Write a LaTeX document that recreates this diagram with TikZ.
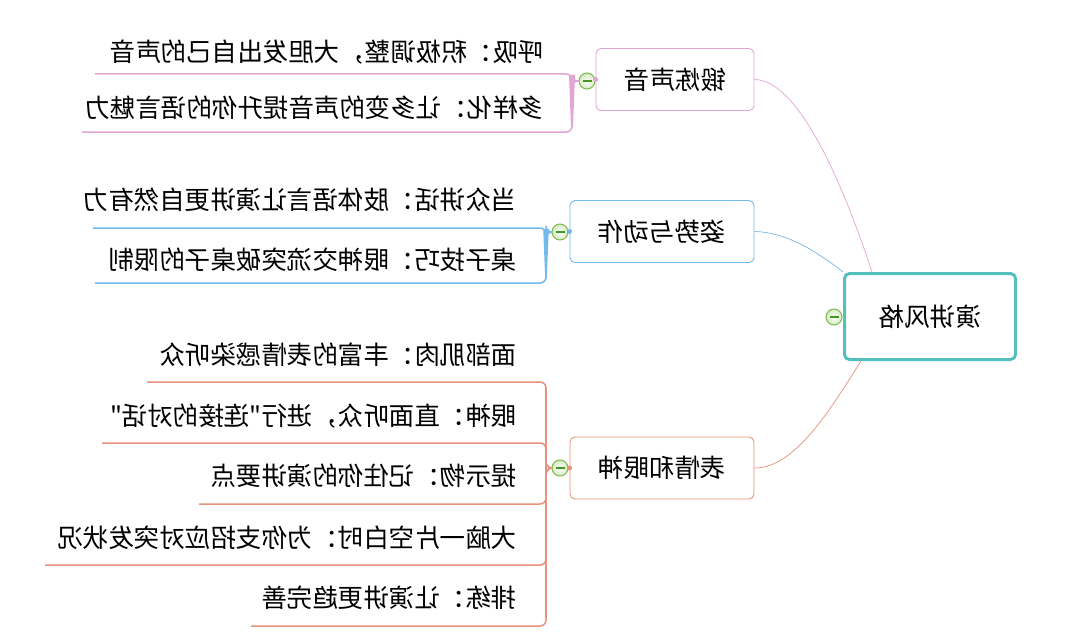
\documentclass[tikz,border=0pt]{standalone}
\usepackage{fontspec}
\usepackage{graphicx}
\newfontfamily\cjk{Noto Sans CJK SC}
\usetikzlibrary{calc}
\newcommand\mirtxt[1]{\reflectbox{\cjk\fontsize{25.5}{30}\selectfont #1}}
\definecolor{pinkc}{HTML}{E2A6D6}
\definecolor{bluec}{HTML}{72B9EC}
\definecolor{salc}{HTML}{E8917C}
\definecolor{tealc}{HTML}{56BEBE}
\definecolor{mgreen}{HTML}{7DB94E}
\definecolor{mgreenfill}{HTML}{EAF6DD}
\definecolor{mgreendark}{HTML}{3F9A1F}
\begin{document}
\begin{tikzpicture}[x=1pt,y=-1pt,
  branchbox/.style={draw, rounded corners=5pt, line width=0.9pt, fill=white, inner sep=0pt, minimum height=62pt},
  rootbox/.style={draw=tealc, rounded corners=5pt, line width=3pt, fill=white, minimum width=171pt, minimum height=86pt, inner sep=0pt},
  leaf/.style={inner sep=0pt, anchor=east},
  minus/.style={circle, draw=mgreen, inner color=white, outer color=mgreenfill!80!mgreen, line width=1pt, minimum size=16pt, inner sep=0pt,
    path picture={\draw[mgreendark, line width=1.4pt] ([xshift=-4.5pt]path picture bounding box.center) -- ([xshift=4.5pt]path picture bounding box.center);}},
  tie/.style={line width=1.5pt, rounded corners=6pt},
  curve/.style={line width=0.7pt}]
\useasboundingbox[fill=white] (0,0) rectangle (1066,634);

% root
\node[rootbox] (root) at (930,316.5) {\mirtxt{演讲风格}};
\node[minus] (mr) at (834,317) {};

% branches
\node[branchbox, draw=pinkc, minimum width=158pt] (bp) at (675,79.5) {\mirtxt{锻炼声音}};
\node[branchbox, draw=bluec, minimum width=184pt] (bb) at (662,231.5) {\mirtxt{姿势与动作}};
\node[branchbox, draw=salc, minimum width=184pt] (bs) at (662,468) {\mirtxt{表情和眼神}};

% curves root -> branches
\draw[pinkc,curve] (bp.east) .. controls (800,80) and (845,190) .. ([xshift=29pt]root.north west);
\draw[bluec,curve] (bb.east) .. controls (785,232) and (815,250) .. (root.north west);
\draw[salc,curve] (bs.east) .. controls (795,468) and (830,410) .. ([xshift=18pt]root.south west);

% collapse circles
\node[minus] (mp) at (587,81) {};
\node[minus] (mb) at (560,232) {};
\node[minus] (ms) at (560,468) {};
\fill[pinkc] (bp.west) circle (2.5);
\fill[bluec] (bb.west) circle (2.5);
\fill[salc] (bs.west) circle (2.5);

% junctions
\coordinate (jp) at (572,81);
\coordinate (jb) at (546,232);
\coordinate (js) at (546,468);

% tapered spines
\fill[pinkc] ($(jp)+(-3,-6)$) -- ($(jp)+(3,-6)$) -- ($(jp)+(1,46)$) -- ($(jp)+(-1,46)$) -- cycle;
\fill[bluec] ($(jb)+(-2.8,-3)$) -- ($(jb)+(2.8,-3)$) -- ($(jb)+(0.8,46)$) -- ($(jb)+(-0.8,46)$) -- cycle;
\fill[salc] ($(js)+(-1.2,-80)$) -- ($(js)+(1.2,-80)$) -- ($(js)+(1.2,150)$) -- ($(js)+(-1.2,150)$) -- cycle;

% leaves: pink
\node[leaf] (p1) at (544,52) {\mirtxt{呼吸：积极调整，大胆发出自己的声音}};
\node[leaf] (p2) at (544,108) {\mirtxt{多样化：让多变的声音提升你的语言魅力}};
\coordinate (p1u) at (95,74);
\coordinate (p2u) at (82,132);
\draw[pinkc,tie] (mp.west) -- (jp) |- (p1u);
\draw[pinkc,tie] (mp.west) -- (jp) |- (p2u);

% leaves: blue
\node[leaf] (b1) at (517,200) {\mirtxt{当众讲话：肢体语言让演讲更自然有力}};
\node[leaf] (b2) at (517,260) {\mirtxt{桌子技巧：眼神交流突破桌子的限制}};
\coordinate (b1u) at (93,228);
\coordinate (b2u) at (95,283);
\draw[bluec,tie] (mb.west) -- (jb) |- (b1u);
\draw[bluec,tie] (mb.west) -- (jb) |- (b2u);

% leaves: salmon
\node[leaf] (s1) at (517,355) {\mirtxt{面部肌肉：丰富的表情感染听众}};
\node[leaf] (s2) at (517,416) {\mirtxt{眼神：直面听众，进行"连接的对话"}};
\node[leaf] (s3) at (517,476) {\mirtxt{提示物：记住你的演讲要点}};
\node[leaf] (s4) at (517,538) {\mirtxt{大脑一片空白时：为你支招应对突发状况}};
\node[leaf] (s5) at (517,598) {\mirtxt{排练：让演讲更趋完善}};
\coordinate (s1u) at (147,382);
\coordinate (s2u) at (102,443);
\coordinate (s3u) at (199,504);
\coordinate (s4u) at (45,565);
\coordinate (s5u) at (251,626);
\foreach \u in {s1u,s2u,s3u,s4u,s5u}
  \draw[salc,tie] (ms.west) -- (js) |- (\u);
\end{tikzpicture}
\end{document}
